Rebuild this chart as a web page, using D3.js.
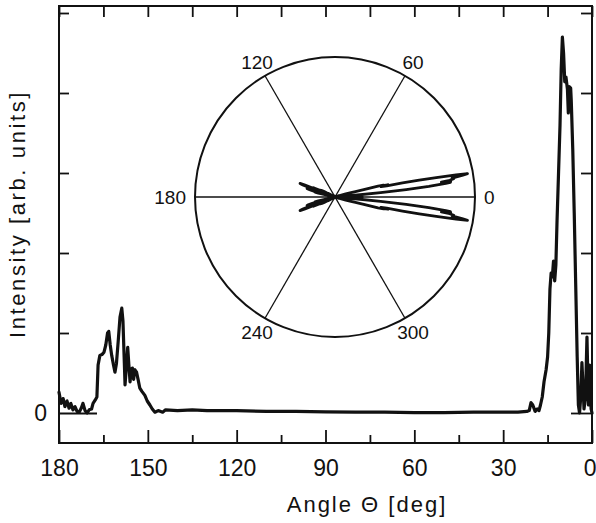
<!DOCTYPE html>
<html><head><meta charset="utf-8">
<script src="https://cdn.jsdelivr.net/npm/d3@7"></script>
<style>
html,body{margin:0;padding:0;background:#fff;}
svg{display:block;}
text{font-family:"Liberation Sans",Arial,sans-serif;fill:#111;}
</style></head>
<body>
<svg id="chart" width="596" height="523"></svg>
<script>
// ---- data: angle (deg) and intensity (arb. units) ----
const angles = [
 0.0,0.3,0.8,1.2,1.7,2.2,2.7,3.0,3.4,3.8,4.2,4.6,5.0,5.5,6.0,6.5,7.0,7.2,7.7,8.0,8.3,8.8,9.2,9.6,10.0,10.4,10.8,11.3,11.8,12.2,12.6,13.0,13.4,13.8,14.2,14.6,15.0,15.5,16.2,16.8,17.4,17.9,18.5,19.2,20.0,20.6,21.2,22,25,30,40,50,60,70,80,90,100,110,120,130,135,140,144,145,146.5,147.6,148.5,149.3,150.2,151.0,152.0,152.7,153.3,153.8,154.4,154.8,155.2,155.6,156.0,156.4,156.8,157.2,157.7,158.0,158.4,158.8,159.4,160.0,160.6,161.1,161.6,162.2,162.7,163.2,163.6,164.2,164.8,165.5,166.2,166.8,167.2,167.8,168.5,169.0,169.8,170.5,171.2,171.9,172.5,173.2,173.9,174.6,175.3,176.0,176.6,177.3,178.0,178.6,179.3,180
];
const intensity = [
 0.0,0.05,0.6,0.1,0.95,0.2,0.05,0.3,0.63,0.2,0.0,0.1,0.7,1.6,2.5,3.3,3.9,4.06,4.08,3.75,4.05,4.2,4.14,4.5,4.70,4.3,3.6,3.0,2.41,1.85,1.65,1.9,1.7,1.75,1.55,1.0,0.7,0.54,0.39,0.2,0.1,0.03,0.05,0.02,0.1,0.13,0.03,0.02,0.01,0.01,0.01,0.005,0.005,0.01,0.01,0.015,0.02,0.02,0.03,0.03,0.04,0.03,0.04,0.01,0.03,0.01,0.05,0.1,0.15,0.22,0.27,0.31,0.42,0.51,0.54,0.42,0.56,0.55,0.39,0.6,0.82,0.6,0.35,0.7,1.15,1.31,1.2,0.9,0.62,0.51,0.6,0.72,0.85,1.02,1.0,0.85,0.76,0.73,0.72,0.6,0.2,0.16,0.12,0.05,0.04,0.0,0.03,0.12,0.06,0.01,0.02,0.08,0.04,0.12,0.06,0.15,0.08,0.18,0.12,0.26
];
const xTickLabels = [180,150,120,90,60,30,0];
const xMinorTicks = [165,135,105,75,45,15];
const yTickValues = [0,1,2,3,4,5];
const polarSpokes = [0,60,120,180,240,300];

const data = angles.map((t,i)=>({t:t, v:intensity[i]}));

const svg = d3.select("#chart");
const L=59, R=592, T=6, B=443;

const x = d3.scaleLinear().domain([180,0]).range([L,R]);
const y = d3.scaleLinear().domain([-0.375,5.0875]).range([B,T]);

// frame
svg.append("rect").attr("x",L).attr("y",T).attr("width",R-L).attr("height",B-T)
  .attr("fill","none").attr("stroke","#111").attr("stroke-width",2);

function styleAxis(g){
  g.select(".domain").remove();
  g.selectAll(".tick line").attr("stroke","#111").attr("stroke-width",1.8);
}
// bottom axis (ticks inward)
svg.append("g").attr("transform",`translate(0,${B})`)
  .call(d3.axisBottom(x).tickValues(xTickLabels).tickSizeInner(-13).tickSizeOuter(0).tickPadding(17).tickFormat(d3.format("d")))
  .call(styleAxis)
  .call(g=>g.selectAll(".tick text").attr("font-size",23).attr("fill","#111").style("font-family","Liberation Sans, Arial, sans-serif"))
  .call(g=>g.selectAll(".tick").filter(d=>d===0).select("text").attr("text-anchor","end").attr("x",4));
svg.append("g").attr("transform",`translate(0,${B})`)
  .call(d3.axisBottom(x).tickValues(xMinorTicks).tickSizeInner(-8).tickSizeOuter(0).tickFormat(""))
  .call(styleAxis);
// top axis ticks
svg.append("g").attr("transform",`translate(0,${T})`)
  .call(d3.axisTop(x).tickValues(xTickLabels.concat(xMinorTicks)).tickSizeInner(-11).tickSizeOuter(0).tickFormat(""))
  .call(styleAxis);
// left axis
svg.append("g").attr("transform",`translate(${L},0)`)
  .call(d3.axisLeft(y).tickValues(yTickValues).tickSizeInner(-10).tickSizeOuter(0).tickPadding(12).tickFormat(d=>d===0?"0":""))
  .call(styleAxis)
  .call(g=>g.selectAll(".tick text").attr("font-size",23).attr("fill","#111").style("font-family","Liberation Sans, Arial, sans-serif"))
  .call(g=>g.selectAll(".tick").filter(d=>d===0).select("line").attr("x2",38));
// right axis
svg.append("g").attr("transform",`translate(${R},0)`)
  .call(d3.axisRight(y).tickValues(yTickValues).tickSizeInner(-11).tickSizeOuter(0).tickFormat(""))
  .call(styleAxis)
  .call(g=>g.selectAll(".tick").filter(d=>d===0).select("line").attr("x2",-21));

// intensity curve
svg.append("path").datum(data)
  .attr("fill","none").attr("stroke","#111").attr("stroke-width",3.2)
  .attr("stroke-linejoin","round").attr("stroke-linecap","round")
  .attr("d", d3.line().x(d=>x(d.t)).y(d=>y(d.v)));

// axis titles
svg.append("text").attr("x",367).attr("y",512).attr("text-anchor","middle")
  .attr("font-size",22).attr("letter-spacing",2).text("Angle  Θ [deg]");
svg.append("text").attr("transform","translate(25,214) rotate(-90)").attr("text-anchor","middle")
  .attr("font-size",22).attr("letter-spacing",2.6).text("Intensity [arb. units]");

// ---- polar inset ----
const cx=335, cy=197, RR=140;
const r = d3.scaleLinear().domain([0,4.89]).range([0,RR]);
const pg = svg.append("g").attr("transform",`translate(${cx},${cy})`);
pg.append("circle").attr("r",RR).attr("fill","none").attr("stroke","#111").attr("stroke-width",2);
pg.selectAll("line.spoke").data([0,60,120]).enter().append("line")
  .attr("x1",d=>RR*Math.cos(d*Math.PI/180)).attr("y1",d=>-RR*Math.sin(d*Math.PI/180))
  .attr("x2",d=>-RR*Math.cos(d*Math.PI/180)).attr("y2",d=>RR*Math.sin(d*Math.PI/180))
  .attr("stroke","#111").attr("stroke-width",1.3);
pg.selectAll("text.pl").data(polarSpokes).enter().append("text")
  .attr("font-size",19)
  .attr("text-anchor",d=>d===0?"start":(d===180?"end":"middle"))
  .attr("x",d=>{const a=d*Math.PI/180; const rr=(d%180===0)?RR+9:RR+16; return rr*Math.cos(a);})
  .attr("y",d=>{const a=d*Math.PI/180; const rr=(d%180===0)?RR+9:RR+16; return -rr*Math.sin(a);})
  .attr("dy","0.36em")
  .text(d=>d);
const upper = d3.lineRadial().angle(d=>Math.PI/2 - d.t*Math.PI/180).radius(d=>r(d.v));
const lower = d3.lineRadial().angle(d=>Math.PI/2 + d.t*Math.PI/180).radius(d=>r(d.v));
[upper,lower].forEach(fn=>{
  pg.append("path").datum(data).attr("fill","none").attr("stroke","#111")
    .attr("stroke-width",2.8).attr("stroke-linejoin","round").attr("d",fn);
});
</script>
</body></html>
